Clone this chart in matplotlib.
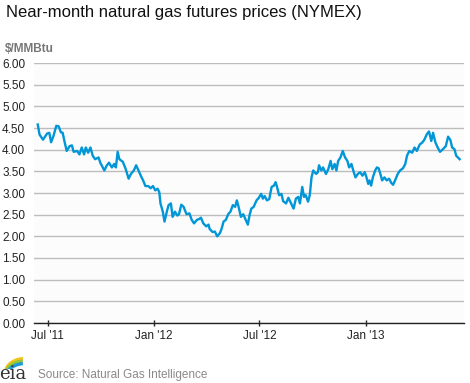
import matplotlib
matplotlib.use("Agg")
import matplotlib.pyplot as plt
from matplotlib.patches import Arc
import pandas as pd

# Near-month NYMEX natural gas futures ($/MMBtu)
dates_2011 = [
    "2011-06-14", "2011-06-17", "2011-06-23", "2011-06-30", "2011-07-04",
    "2011-07-07", "2011-07-11", "2011-07-16", "2011-07-20", "2011-07-24",
    "2011-07-27", "2011-07-30", "2011-08-03", "2011-08-08", "2011-08-12",
    "2011-08-15", "2011-08-21", "2011-08-25", "2011-08-29", "2011-09-02",
    "2011-09-05", "2011-09-09", "2011-09-13", "2011-09-17", "2011-09-21",
    "2011-09-27", "2011-09-30", "2011-10-07", "2011-10-11", "2011-10-15",
    "2011-10-20", "2011-10-24", "2011-10-27", "2011-10-30", "2011-11-02",
    "2011-11-08", "2011-11-13", "2011-11-18", "2011-11-22", "2011-11-27",
    "2011-12-01", "2011-12-05", "2011-12-09", "2011-12-13", "2011-12-17",
    "2011-12-22", "2011-12-26", "2011-12-30",
]
prices_2011 = [
    4.58, 4.35, 4.23, 4.37, 4.39,
    4.17, 4.31, 4.55, 4.54, 4.40,
    4.39, 4.20, 3.97, 4.08, 4.10,
    3.95, 3.97, 3.89, 4.05, 3.89,
    4.05, 3.93, 4.05, 3.86, 3.78,
    3.82, 3.70, 3.52, 3.63, 3.70,
    3.59, 3.67, 3.59, 3.95, 3.78,
    3.72, 3.55, 3.33, 3.44, 3.52,
    3.64, 3.52, 3.40, 3.29, 3.16,
    3.16, 3.11, 3.16,
]

dates_2012 = [
    "2012-01-03", "2012-01-07", "2012-01-10", "2012-01-12", "2012-01-16",
    "2012-01-19", "2012-01-23", "2012-01-26", "2012-01-30", "2012-02-02",
    "2012-02-06", "2012-02-10", "2012-02-13", "2012-02-17", "2012-02-21",
    "2012-02-26", "2012-03-02", "2012-03-06", "2012-03-10", "2012-03-15",
    "2012-03-19", "2012-03-22", "2012-03-26", "2012-03-31", "2012-04-04",
    "2012-04-06", "2012-04-11", "2012-04-15", "2012-04-19", "2012-04-24",
    "2012-04-27", "2012-04-30", "2012-05-04", "2012-05-08", "2012-05-12",
    "2012-05-16", "2012-05-20", "2012-05-23", "2012-05-26", "2012-05-30",
    "2012-06-03", "2012-06-06", "2012-06-11", "2012-06-14", "2012-06-17",
    "2012-06-21", "2012-06-26", "2012-06-30", "2012-07-04", "2012-07-07",
    "2012-07-10", "2012-07-14", "2012-07-18", "2012-07-22", "2012-07-26",
    "2012-07-29", "2012-07-31", "2012-08-04", "2012-08-08", "2012-08-11",
    "2012-08-16", "2012-08-20", "2012-08-24", "2012-08-29", "2012-09-02",
    "2012-09-06", "2012-09-09", "2012-09-13", "2012-09-16", "2012-09-19",
    "2012-09-23", "2012-09-26", "2012-09-29", "2012-10-02", "2012-10-07",
    "2012-10-10", "2012-10-12", "2012-10-16", "2012-10-19", "2012-10-24",
    "2012-10-28", "2012-11-01", "2012-11-04", "2012-11-08", "2012-11-11",
    "2012-11-14", "2012-11-18", "2012-11-22", "2012-11-26", "2012-11-30",
    "2012-12-03", "2012-12-07", "2012-12-11", "2012-12-14", "2012-12-18",
    "2012-12-22", "2012-12-26", "2012-12-30",
]
prices_2012 = [
    3.06, 3.10, 3.02, 2.76, 2.57,
    2.34, 2.57, 2.72, 2.76, 2.45,
    2.57, 2.48, 2.51, 2.73, 2.68,
    2.51, 2.53, 2.38, 2.30, 2.38,
    2.40, 2.43, 2.30, 2.23, 2.27,
    2.17, 2.10, 2.11, 2.00, 2.08,
    2.19, 2.34, 2.38, 2.51, 2.57,
    2.72, 2.68, 2.83, 2.68, 2.45,
    2.51, 2.42, 2.27, 2.49, 2.64,
    2.68, 2.83, 2.89, 2.98, 2.87,
    2.93, 2.83, 2.86, 3.14, 3.17,
    3.25, 3.16, 2.95, 2.98, 2.81,
    2.76, 2.89, 2.78, 2.64, 2.87,
    2.91, 2.76, 3.14, 2.91, 2.95,
    2.80, 2.95, 3.36, 3.52, 3.44,
    3.48, 3.64, 3.52, 3.59, 3.44,
    3.55, 3.74, 3.55, 3.67, 3.52,
    3.74, 3.82, 3.97, 3.82, 3.74,
    3.59, 3.67, 3.48, 3.36, 3.44,
    3.48, 3.40, 3.48,
]

dates_2013 = [
    "2013-01-02", "2013-01-05", "2013-01-07", "2013-01-10", "2013-01-13",
    "2013-01-17", "2013-01-20", "2013-01-23", "2013-01-26", "2013-01-29",
    "2013-02-02", "2013-02-06", "2013-02-10", "2013-02-14", "2013-02-17",
    "2013-02-21", "2013-02-25", "2013-03-01", "2013-03-06", "2013-03-10",
    "2013-03-13", "2013-03-17", "2013-03-22", "2013-03-26", "2013-03-30",
    "2013-04-04", "2013-04-08", "2013-04-12", "2013-04-16", "2013-04-20",
    "2013-04-24", "2013-04-27", "2013-05-01", "2013-05-05", "2013-05-09",
    "2013-05-14", "2013-05-19", "2013-05-23", "2013-05-27", "2013-05-30",
    "2013-06-03", "2013-06-06", "2013-06-09", "2013-06-12",
]
prices_2013 = [
    3.36, 3.21, 3.29, 3.17, 3.36,
    3.52, 3.59, 3.57, 3.44, 3.29,
    3.36, 3.29, 3.33, 3.23, 3.19,
    3.31, 3.44, 3.52, 3.57, 3.67,
    3.86, 3.97, 3.93, 4.05, 3.97,
    4.12, 4.16, 4.23, 4.35, 4.42,
    4.20, 4.39, 4.17, 4.05, 3.95,
    4.01, 4.08, 4.30, 4.22, 4.05,
    4.01, 3.86, 3.82, 3.78,
]

tick_dates = ["2011-07-01", "2012-01-01", "2012-07-01", "2013-01-01"]
tick_labels = ["Jul '11", "Jan '12", "Jul '12", "Jan '13"]
y_ticks = [0, 0.5, 1, 1.5, 2, 2.5, 3, 3.5, 4, 4.5, 5, 5.5, 6]

dates = pd.to_datetime(dates_2011 + dates_2012 + dates_2013)
prices = prices_2011 + prices_2012 + prices_2013

plt.rcParams['font.family'] = ['Liberation Sans', 'DejaVu Sans']

fig = plt.figure(figsize=(4.70, 3.83), dpi=100)
ax = fig.add_axes([34.3 / 470, 60 / 383, 430 / 470, 260 / 383])
ax.set_facecolor('#fcfcfc')

ax.plot(dates, prices, color='#0096d7', linewidth=1.7, solid_joinstyle='round')

ax.set_ylim(0, 6)
ax.set_xlim(pd.Timestamp("2011-06-08"), pd.Timestamp("2013-06-20"))
ax.set_yticks(y_ticks)
ax.set_yticklabels([f"{v:.2f}" for v in y_ticks], fontsize=8.5, color='#222222')
ax.set_xticks(pd.to_datetime(tick_dates))
ax.set_xticklabels(tick_labels, fontsize=8.5, color='#222222')

ax.grid(axis='y', color='#bdbdbd', linewidth=1.0)
ax.set_axisbelow(True)
for side in ['top', 'right', 'left']:
    ax.spines[side].set_visible(False)
ax.spines['bottom'].set_color('#222222')
ax.spines['bottom'].set_linewidth(1.0)
ax.tick_params(axis='y', length=0, pad=6.5)
ax.tick_params(axis='x', length=5, width=1, color='#222222', pad=2.5, direction='inout')

fig.text(6 / 470, 1 - 13 / 383, "Near-month natural gas futures prices (NYMEX)",
         fontsize=12, color='#111111', va='center', ha='left')
fig.text(5 / 470, 1 - 49 / 383, "$/MMBtu", fontsize=8.5, color='#777777',
         fontweight='bold', va='center', ha='left')
fig.text(38 / 470, 1 - 375 / 383, "Source: Natural Gas Intelligence", fontsize=8.5,
         color='#8a8a8a', va='center', ha='left')

# eia logo: serif letters with three coloured swooshes above
fig.text(-1 / 470, 1 - 374 / 383, "eia", family='DejaVu Serif', fontsize=13,
         color='#333333', va='center', ha='left')
logo = fig.add_axes([3 / 470, 1 - 369 / 383, 26 / 470, 14 / 383])
logo.set_xlim(0, 1)
logo.set_ylim(0, 1)
logo.axis('off')
for i, c in enumerate(['#f2c318', '#8cc63f', '#1f9ad6']):
    logo.add_patch(Arc((0.85, -0.25 - 0.18 * i), 1.5, 2.0, theta1=95, theta2=172,
                       color=c, linewidth=2.4))

fig.savefig("out.png", dpi=100)
